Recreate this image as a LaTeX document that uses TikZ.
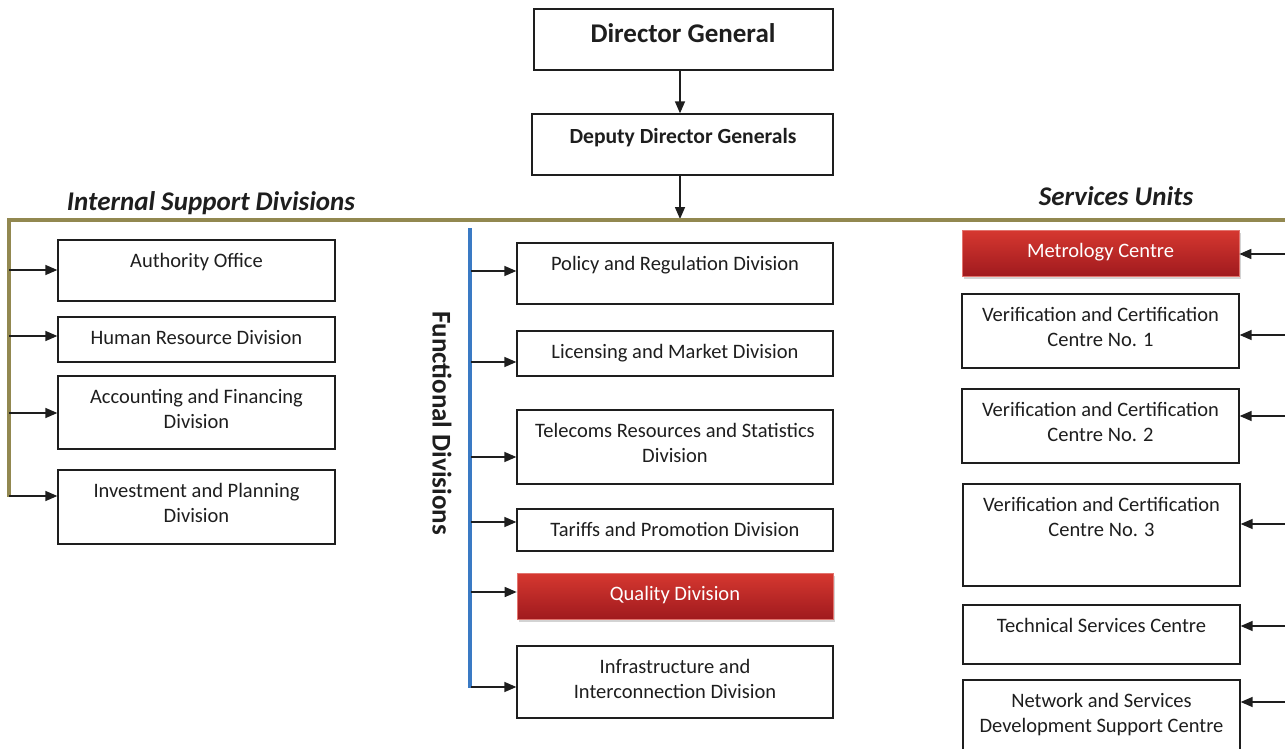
\documentclass[tikz,border=0pt]{standalone}
\usepackage{fontspec}
\setmainfont{Carlito}
\usetikzlibrary{arrows.meta,shadows}
\definecolor{olivel}{RGB}{146,136,80}
\definecolor{bluel}{RGB}{58,122,196}
\definecolor{ink}{RGB}{30,30,30}
\definecolor{redtop}{RGB}{214,56,48}
\definecolor{redbot}{RGB}{160,26,30}
\tikzset{
 box/.style={draw=ink, line width=1.3pt, fill=white, inner sep=0pt},
 redbox/.style={draw=redtop!70!white, line width=0.6pt, top color=redtop, bottom color=redbot, inner sep=0pt,
   drop shadow={shadow xshift=1.5pt, shadow yshift=-2.5pt, opacity=0.35}},
 lbl/.style={font=\fontsize{20.5}{25}\selectfont, text=ink, align=center, inner sep=0pt, anchor=north},
 wlbl/.style={lbl, text=white},
 arr/.style={draw=ink, line width=1.5pt, -{Triangle[length=12pt,width=10pt]}},
 ttl/.style={font=\fontsize{27}{30}\selectfont\bfseries\itshape, text=ink, inner sep=0pt, anchor=base},
 olivestroke/.style={draw=olivel, line width=3.5pt},
 bluestroke/.style={draw=bluel, line width=3.5pt},
}
\newcommand\orgbox[8]{%
 \node[#6, minimum width={#4pt-#2pt}, minimum height={#5pt-#3pt}] (#1) at ({(#2+#4)/2},{(#3+#5)/2}) {};
 \node[#7] (#1t) at ({(#2+#4)/2},{#3+10}) {\strut #8};
}
\begin{document}
\begin{tikzpicture}[x=1pt,y=-1pt]
\useasboundingbox (0,0) rectangle (1285,749);
% top
\orgbox{dg}{534}{9}{833}{70}{box}{lbl}{}
\node[font=\fontsize{27}{30}\selectfont\bfseries, text=ink, inner sep=0pt, anchor=base] (dgt2) at (683,43) {Director General};
\orgbox{dd}{532}{114}{833}{175}{box}{lbl}{}
\node[font=\fontsize{21.6}{25}\selectfont\bfseries, text=ink, inner sep=0pt, anchor=base] (ddt2) at (683,143) {Deputy Director Generals};
\coordinate (hl) at (680,219);
\draw[arr] (dg.south -| hl) -- (dd.north -| hl);
\draw[arr] (dd.south -| hl) -- (hl);
% olive frame
\coordinate (oR) at (1290,220);
\coordinate (oL) at (9,220);
\coordinate (oB) at (9,497);
\draw[olivestroke] (oR) -- (oL) -- (oB);
% headings
\node[ttl] (isd) at (211,210) {Internal Support Divisions};
\node[ttl] (su) at (1116,205) {Services Units};
\node[font=\fontsize{27}{30}\selectfont\bfseries, text=ink, inner sep=0pt, rotate=-90] (fd) at (442,423) {Functional Divisions};
% left boxes
\orgbox{ao}{58}{240}{335}{301}{box}{lbl}{Authority Office}
\orgbox{hr}{58}{317}{335}{362}{box}{lbl}{Human Resource Division}
\orgbox{af}{58}{376}{335}{449}{box}{lbl}{Accounting and Financing\\Division}
\orgbox{ip}{58}{470}{335}{544}{box}{lbl}{Investment and Planning\\Division}
\coordinate (l1) at (9,270);
\coordinate (l2) at (9,336);
\coordinate (l3) at (9,413);
\coordinate (l4) at (9,496);
\draw[arr] (l1) -- (l1 -| ao.west);
\draw[arr] (l2) -- (l2 -| hr.west);
\draw[arr] (l3) -- (l3 -| af.west);
\draw[arr] (l4) -- (l4 -| ip.west);
% middle
\coordinate (bT) at (470,228);
\coordinate (bB) at (470,688);
\draw[bluestroke] (bT) -- (bB);
\orgbox{pr}{517}{243}{833}{304}{box}{lbl}{Policy and Regulation Division}
\orgbox{lm}{517}{331}{833}{376}{box}{lbl}{Licensing and Market Division}
\orgbox{tr}{517}{410}{833}{484}{box}{lbl}{Telecoms Resources and Statistics\\Division}
\orgbox{tp}{517}{509}{833}{551}{box}{lbl}{Tariffs and Promotion Division}
\orgbox{qd}{517}{573}{833}{619}{redbox}{wlbl}{Quality Division}
\orgbox{ii}{517}{646}{833}{718}{box}{lbl}{Infrastructure and\\Interconnection Division}
\coordinate (m1) at (471,271);
\coordinate (m2) at (471,362);
\coordinate (m3) at (471,457);
\coordinate (m4) at (471,522);
\coordinate (m5) at (471,592);
\coordinate (m6) at (471,687);
\draw[arr] (m1) -- (m1 -| pr.west);
\draw[arr] (m2) -- (m2 -| lm.west);
\draw[arr] (m3) -- (m3 -| tr.west);
\draw[arr] (m4) -- (m4 -| tp.west);
\draw[arr] (m5) -- (m5 -| qd.west);
\draw[arr] (m6) -- (m6 -| ii.west);
% right
\orgbox{mc}{962}{230}{1239}{276}{redbox}{wlbl}{Metrology Centre}
\orgbox{va}{962}{294}{1239}{368}{box}{lbl}{Verification and Certification\\Centre No. 1}
\orgbox{vb}{962}{389}{1239}{463}{box}{lbl}{Verification and Certification\\Centre No. 2}
\orgbox{vc}{963}{484}{1240}{586}{box}{lbl}{Verification and Certification\\Centre No. 3}
\orgbox{ts}{963}{605}{1240}{664}{box}{lbl}{Technical Services Centre}
\orgbox{ns}{963}{680}{1240}{765}{box}{lbl}{Network and Services\\Development Support Centre}
\coordinate (r1) at (1286,254);
\coordinate (r2) at (1286,335);
\coordinate (r3) at (1286,416);
\coordinate (r4) at (1286,524);
\coordinate (r5) at (1286,626);
\coordinate (r6) at (1286,702);
\draw[arr] (r1) -- (r1 -| mc.east);
\draw[arr] (r2) -- (r2 -| va.east);
\draw[arr] (r3) -- (r3 -| vb.east);
\draw[arr] (r4) -- (r4 -| vc.east);
\draw[arr] (r5) -- (r5 -| ts.east);
\draw[arr] (r6) -- (r6 -| ns.east);
\end{tikzpicture}
\end{document}
